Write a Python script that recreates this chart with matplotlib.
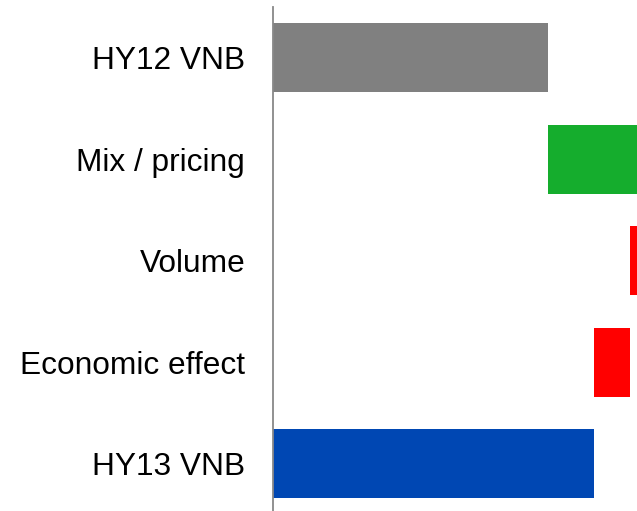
import matplotlib
matplotlib.use("Agg")
import matplotlib.pyplot as plt

# Value of new business bridge, half-year 2012 to half-year 2013
categories = ["HY12 VNB", "Mix / pricing", "Volume", "Economic effect", "HY13 VNB"]
changes = [275, 94, -12, -36, None]   # first is the opening total, None = closing total
colors = ["#808080", "#15AD2D", "#FF0000", "#FF0000", "#0047B3"]

# Build the floating bars of the waterfall
lefts, widths = [], []
running = 0
for i, ch in enumerate(changes):
    if i == 0:
        lefts.append(0)
        widths.append(ch)
        running = ch
    elif ch is None:
        lefts.append(0)
        widths.append(running)
    else:
        lefts.append(running)
        widths.append(ch)
        running += ch

fig = plt.figure(figsize=(6.37, 5.11), dpi=100)
ax = fig.add_axes([273 / 637, -3.5 / 511, 364 / 637, 507.5 / 511])

ypos = list(range(len(categories)))
ax.barh(ypos, widths, left=lefts, height=0.68, color=colors)

ax.set_ylim(len(categories) - 0.5, -0.5)
ax.set_xlim(0, 364)
ax.set_yticks(ypos)
ax.set_yticklabels(categories, fontsize=22.8, family="Liberation Sans")
ax.tick_params(axis="y", length=0, pad=20)
ax.set_xticks([])

for side in ["top", "right", "bottom"]:
    ax.spines[side].set_visible(False)
ax.spines["left"].set_color("#888888")
ax.spines["left"].set_linewidth(1.3)

fig.savefig("out.png", dpi=100)
